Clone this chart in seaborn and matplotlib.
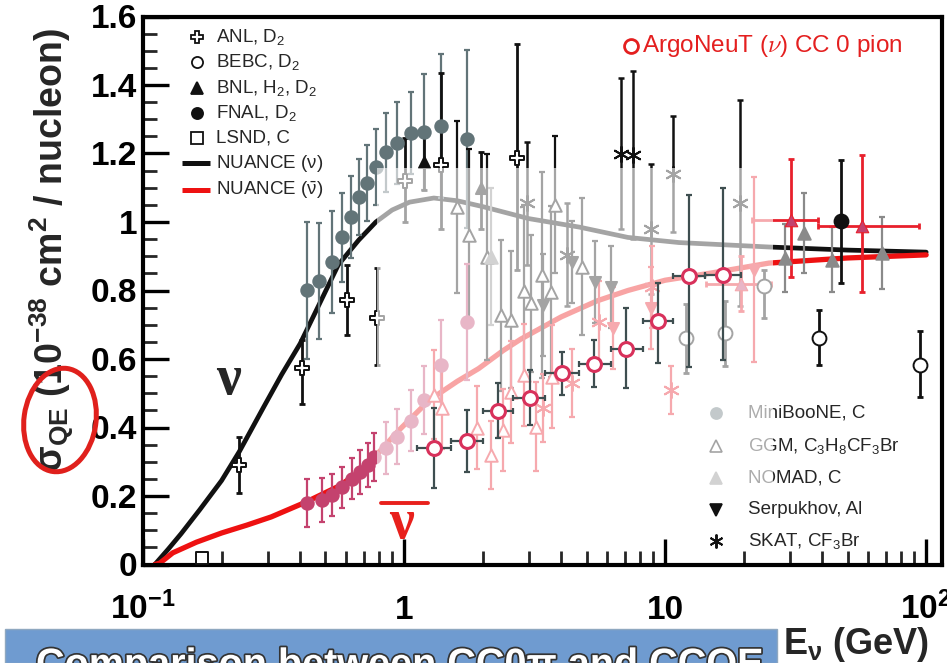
import numpy as np
import matplotlib
matplotlib.use("Agg")
import matplotlib.pyplot as plt
import seaborn as sns
from matplotlib.patches import Rectangle, Ellipse
import matplotlib.patheffects as pe
from matplotlib.ticker import FixedLocator, FixedFormatter, LogLocator, MultipleLocator, NullFormatter

sns.set_theme(style="ticks")
plt.rcParams['font.family'] = ['Liberation Sans', 'DejaVu Sans']
plt.rcParams['mathtext.fontset'] = 'custom'
plt.rcParams['mathtext.rm'] = 'Liberation Sans'
plt.rcParams['mathtext.it'] = 'Liberation Sans:italic'
plt.rcParams['mathtext.bf'] = 'Liberation Sans:bold'
plt.rcParams['mathtext.default'] = 'regular'

# ---------------- NUANCE predictions ----------------
nuance_nu_e = [0.111, 0.125, 0.14, 0.165, 0.20, 0.234, 0.29, 0.34, 0.40, 0.47, 0.56, 0.67,
               0.78, 0.9, 1.05, 1.3, 1.6, 2.0, 3.0, 4.7, 7.2, 11.3, 25.0, 50.0, 100.0]
nuance_nu_xs = [0.0, 0.045, 0.09, 0.16, 0.245, 0.33, 0.46, 0.555, 0.645, 0.755, 0.875, 0.947,
                1.0, 1.035, 1.058, 1.07, 1.062, 1.045, 1.01, 0.985, 0.955, 0.94, 0.927, 0.918, 0.912]
nuance_nub_e = [0.111, 0.116, 0.13, 0.16, 0.20, 0.25, 0.31, 0.42, 0.56, 0.66, 0.78, 0.95,
                1.25, 1.6, 1.93, 2.4, 2.8, 4.0, 5.5, 7.2, 10.0, 15.0, 25.0, 50.0, 100.0]
nuance_nub_xs = [0.0, 0.004, 0.034, 0.065, 0.092, 0.115, 0.139, 0.182, 0.228, 0.265, 0.318, 0.39,
                 0.48, 0.535, 0.572, 0.625, 0.658, 0.723, 0.77, 0.80, 0.83, 0.851, 0.88, 0.895, 0.904]

# ---------------- neutrino data ----------------
anl_e = [0.234, 0.405, 0.606, 0.79, 1.01, 1.38, 2.7]
anl_xs = [0.29, 0.574, 0.772, 0.72, 1.12, 1.165, 1.187]
anl_lo = [0.209, 0.47, 0.67, 0.583, 1.0, 0.98, 0.86]
anl_hi = [0.372, 0.655, 0.875, 0.866, 1.245, 1.435, 1.52]

bebc_e = [12.0, 17.0, 23.9, 38.7, 94.8]
bebc_xs = [0.66, 0.675, 0.813, 0.661, 0.582]
bebc_lo = [0.56, 0.58, 0.72, 0.582, 0.489]
bebc_hi = [0.76, 0.77, 0.86, 0.743, 0.682]

bnl_e = [1.19, 1.98]
bnl_xs = [1.175, 1.10]
bnl_lo = [1.093, 0.98]
bnl_hi = [1.248, 1.204]

fnal_e = [47.3]
fnal_xs = [1.003]
fnal_lo = [0.822]
fnal_hi = [1.18]

lsnd_e = [0.168]
lsnd_xs = [0.019]

mb_e = [0.426, 0.473, 0.531, 0.58, 0.627, 0.672, 0.72, 0.78, 0.85, 0.94, 1.06, 1.19, 1.38, 1.75]
mb_xs = [0.801, 0.828, 0.883, 0.956, 1.015, 1.073, 1.114, 1.161, 1.204, 1.23, 1.26, 1.263, 1.28, 1.243]
mb_err = [0.2, 0.17, 0.15, 0.13, 0.12, 0.11, 0.11, 0.11, 0.115, 0.12, 0.12, 0.17, 0.21, 0.26]

ggm_e = [1.59, 1.77, 2.08, 2.36, 2.56, 2.87, 3.07, 3.37, 3.65, 3.8, 4.8]
ggm_xs = [1.044, 0.962, 0.898, 0.728, 0.714, 0.80, 0.763, 0.845, 0.796, 1.05, 0.869]
ggm_err = [0.25, 0.25, 0.3, 0.22, 0.2, 0.25, 0.2, 0.3, 0.25, 0.2, 0.2]

nomad_e = [2.16, 28.7, 34.0, 43.4, 67.5]
nomad_xs = [0.898, 0.895, 0.968, 0.89, 0.91]
nomad_err = [0.2, 0.10, 0.117, 0.095, 0.105]

serp_e = [3.4, 4.4, 5.4, 6.2]
serp_xs = [0.758, 0.884, 0.825, 0.81]
serp_err = [0.15, 0.12, 0.12, 0.12]

skat_e = [2.95, 4.2, 6.8, 7.56, 8.8, 10.7, 19.3]
skat_xs = [1.055, 0.905, 1.2, 1.196, 0.98, 1.14, 1.055]
skat_err = [0.18, 0.15, 0.22, 0.245, 0.19, 0.17, 0.3]

# ---------------- antineutrino data ----------------
mbb_e = [0.426, 0.483, 0.531, 0.58, 0.632, 0.68, 0.73, 0.77, 0.85, 0.94, 1.06, 1.19, 1.38, 1.75]
mbb_xs = [0.18, 0.188, 0.203, 0.226, 0.25, 0.27, 0.29, 0.314, 0.34, 0.373, 0.42, 0.48, 0.583, 0.708]
mbb_err = [0.07, 0.065, 0.06, 0.06, 0.06, 0.065, 0.065, 0.07, 0.075, 0.08, 0.09, 0.1, 0.13, 0.17]

ggmb_e = [1.3, 1.4, 1.9, 2.16, 2.4, 2.56, 2.87, 3.2, 3.7]
ggmb_xs = [0.495, 0.457, 0.40, 0.32, 0.393, 0.504, 0.553, 0.402, 0.548]
ggmb_err = [0.13, 0.12, 0.12, 0.1, 0.12, 0.15, 0.15, 0.13, 0.15]

nomadb_e = [19.5, 30.3, 57.0]
nomadb_xs = [0.82, 1.005, 0.988]
nomadb_lo = [0.74, 0.84, 0.796]
nomadb_hi = [0.90, 1.184, 1.196]
nomadb_elo = [14.4, 21.6, 38.5]
nomadb_ehi = [25.4, 38.5, 94.0]

serpb_e = [6.3, 8.8, 22.0]
serpb_xs = [0.69, 0.749, 0.86]
serpb_err = [0.12, 0.12, 0.27]

skatb_e = [3.4, 4.4, 5.6, 8.9, 10.5]
skatb_xs = [0.457, 0.53, 0.708, 0.81, 0.51]
skatb_err = [0.1, 0.1, 0.12, 0.12, 0.07]

# ---------------- ArgoNeuT CC 0 pion ----------------
argo_e = [1.30, 1.75, 2.30, 3.05, 4.04, 5.33, 7.1, 9.4, 12.3, 16.6]
argo_xs = [0.34, 0.36, 0.448, 0.486, 0.559, 0.585, 0.629, 0.711, 0.842, 0.845]
argo_lo = [0.223, 0.27, 0.37, 0.407, 0.495, 0.518, 0.515, 0.588, 0.577, 0.597]
argo_hi = [0.457, 0.45, 0.53, 0.568, 0.62, 0.655, 0.749, 0.822, 1.08, 1.10]
argo_elo = [1.12, 1.51, 2.01, 2.62, 3.47, 4.66, 6.2, 8.2, 10.7, 14.2]
argo_ehi = [1.51, 2.01, 2.62, 3.47, 4.66, 6.2, 8.2, 10.7, 14.2, 19.5]

xticks = [0.1, 1, 10, 100]
xticklabels = ['10$^{-1}$', '1', '10', '10$^{2}$']

W, H = 947, 663
fig = plt.figure(figsize=(W / 100, H / 100), dpi=100)
AX_L, AX_R, AX_T, AX_B = 143, 942, 16.5, 564.5
ax = fig.add_axes([AX_L / W, 1 - AX_B / H, (AX_R - AX_L) / W, (AX_B - AX_T) / H])


def axx(px):
    return (px - AX_L) / (AX_R - AX_L)


def axy(py):
    return (AX_B - py) / (AX_B - AX_T)


BLACK = '#111111'
SLATE = '#627478'
GRAY = '#8a8a8a'
RED = '#e8202c'
DPINK = '#c4426e'


def series(e, xs, lo, hi, color, marker, face, size, lw=1.8, xlo=None, xhi=None,
           ecolor=None, z=3, mew=1.4, capsize=2.5):
    e = np.asarray(e, float)
    xs = np.asarray(xs, float)
    yerr = [xs - np.asarray(lo, float), np.asarray(hi, float) - xs]
    xerr = None
    if xlo is not None:
        xerr = [e - np.asarray(xlo, float), np.asarray(xhi, float) - e]
    ax.errorbar(e, xs, yerr=yerr, xerr=xerr, fmt='none', ecolor=ecolor or color,
                elinewidth=lw, capsize=capsize, capthick=lw, zorder=z)
    if marker == 'ast':
        sns.scatterplot(x=e, y=xs, marker=(6, 2, 0), s=size ** 2, color=color,
                        linewidth=mew, ax=ax, zorder=z + 0.1, legend=False)
    else:
        sns.scatterplot(x=e, y=xs, marker=marker, s=size ** 2, color=face,
                        edgecolor=color, linewidth=mew, ax=ax, zorder=z + 0.1, legend=False)


def sym(xs, err):
    xs = np.asarray(xs, float)
    err = np.asarray(err, float)
    return xs - err, xs + err


# predictions
sns.lineplot(x=nuance_nu_e, y=nuance_nu_xs, color=BLACK, linewidth=3.4, ax=ax, zorder=2)
sns.lineplot(x=nuance_nub_e, y=nuance_nub_xs, color='#ee1111', linewidth=3.8, ax=ax, zorder=2)

# nuclear-target neutrino data
series(mb_e, mb_xs, *sym(mb_xs, mb_err), SLATE, 'o', SLATE, 9, lw=1.6)
series(ggm_e, ggm_xs, *sym(ggm_xs, ggm_err), BLACK, '^', 'white', 9, lw=1.6)
series(nomad_e, nomad_xs, *sym(nomad_xs, nomad_err), GRAY, '^', GRAY, 9, lw=1.6)
series(serp_e, serp_xs, *sym(serp_xs, serp_err), BLACK, 'v', BLACK, 8, lw=1.6)
series(skat_e, skat_xs, *sym(skat_xs, skat_err), BLACK, 'ast', BLACK, 11, lw=1.8)

# antineutrino data
series(mbb_e, mbb_xs, *sym(mbb_xs, mbb_err), DPINK, 'o', DPINK, 9, lw=1.6)
series(ggmb_e, ggmb_xs, *sym(ggmb_xs, ggmb_err), RED, '^', 'white', 9, lw=1.6)
series(serpb_e, serpb_xs, *sym(serpb_xs, serpb_err), RED, 'v', RED, 8, lw=1.6)
series(skatb_e, skatb_xs, *sym(skatb_xs, skatb_err), RED, 'ast', RED, 11, lw=1.6)
series(nomadb_e, nomadb_xs, nomadb_lo, nomadb_hi, RED, '^', DPINK, 9, lw=2.0,
       xlo=nomadb_elo, xhi=nomadb_ehi, mew=0.8)

# deuterium / hydrogen neutrino data
series(anl_e, anl_xs, anl_lo, anl_hi, BLACK, 'P', 'white', 10, lw=2.0)
series(bebc_e, bebc_xs, bebc_lo, bebc_hi, BLACK, 'o', 'white', 10, lw=2.0)
series(bnl_e, bnl_xs, bnl_lo, bnl_hi, BLACK, '^', BLACK, 8, lw=2.0)
series(fnal_e, fnal_xs, fnal_lo, fnal_hi, BLACK, 'o', BLACK, 10, lw=2.0)
sns.scatterplot(x=lsnd_e, y=lsnd_xs, marker='s', s=81, color='white', edgecolor=BLACK,
                linewidth=1.4, ax=ax, zorder=3.1, legend=False, clip_on=False)

# legend, upper left
leg1 = [('P', 'white', 37, 'ANL, D$_2$'),
        ('o', 'white', 62, 'BEBC, D$_2$'),
        ('^', BLACK, 88, 'BNL, H$_2$, D$_2$'),
        ('o', BLACK, 113, 'FNAL, D$_2$'),
        ('s', 'white', 138, 'LSND, C')]
for mk, fc, py, lab in leg1:
    ax.plot([axx(197)], [axy(py)], marker=mk, ms=8, mfc=fc, mec=BLACK, mew=1.3,
            transform=ax.transAxes, zorder=3, clip_on=False)
    ax.text(axx(216), axy(py), lab, fontsize=13.5, va='center', ha='left',
            transform=ax.transAxes, zorder=3)
for col, py, lab in [(BLACK, 163, r'NUANCE ($\nu$)'), ('#ee1111', 190, r'NUANCE ($\bar{\nu}$)')]:
    ax.plot([axx(182), axx(210)], [axy(py), axy(py)], color=col, lw=3.6,
            transform=ax.transAxes, zorder=3, solid_capstyle='butt')
    ax.text(axx(216), axy(py), lab, fontsize=13.5, va='center', ha='left',
            transform=ax.transAxes, zorder=3)

# legend, lower right
leg2 = [('o', SLATE, SLATE, 413, 'MiniBooNE, C'),
        ('^', 'white', BLACK, 446, 'GGM, C$_3$H$_8$CF$_3$Br'),
        ('^', GRAY, GRAY, 478, 'NOMAD, C'),
        ('v', BLACK, BLACK, 510, 'Serpukhov, Al'),
        ('ast', BLACK, BLACK, 541, 'SKAT, CF$_3$Br')]
for mk, fc, ec, py, lab in leg2:
    if mk == 'ast':
        ax.plot([axx(716)], [axy(py)], marker=(6, 2, 0), ms=10, mec=ec, mew=1.4,
                transform=ax.transAxes, zorder=3)
    else:
        ax.plot([axx(716)], [axy(py)], marker=mk, ms=8, mfc=fc, mec=ec, mew=1.2,
                transform=ax.transAxes, zorder=3)
    ax.text(axx(748), axy(py), lab, fontsize=13.5, va='center', ha='left',
            transform=ax.transAxes, zorder=3)

# translucent highlight panel over the middle energy range
ax.add_patch(Rectangle((axx(377), axy(495)), axx(773) - axx(377), axy(168) - axy(495),
                       transform=ax.transAxes, facecolor='white', alpha=0.62,
                       edgecolor='none', zorder=4))

# ArgoNeuT measurement on top
series(argo_e, argo_xs, argo_lo, argo_hi, '#d8315b', 'o', 'white', 10, lw=1.6,
       xlo=argo_elo, xhi=argo_ehi, ecolor='#3e4e50', z=6, mew=2.2, capsize=2)

ax.plot([axx(631)], [axy(46)], marker='o', ms=10, mfc='none', mec='#e41f1f', mew=2,
        transform=ax.transAxes, zorder=7)
ax.text(axx(642), axy(46), r'ArgoNeuT ($\mathit{\nu}$) CC 0 pion', color='#e41f1f', fontsize=17.5,
        va='center', ha='left', transform=ax.transAxes, zorder=7, math_fontfamily='cm')

# nu / nubar annotations
ax.text(axx(228), axy(380), 'ν', fontsize=40, fontweight='bold', family='Liberation Serif',
        ha='center', va='center', transform=ax.transAxes, zorder=6)
ax.text(axx(401), axy(524), 'ν', fontsize=40, fontweight='bold', family='Liberation Serif',
        color='#e8201c', ha='center', va='center', transform=ax.transAxes, zorder=6)
ax.plot([axx(381), axx(428)], [axy(503), axy(503)], color='#e8201c', lw=2.8,
        transform=ax.transAxes, zorder=6)

# axes
ax.set_xscale('log')
ax.set_xlim(0.1, 115)
ax.set_ylim(0, 1.6)
ax.xaxis.set_major_locator(FixedLocator(xticks))
ax.xaxis.set_major_formatter(FixedFormatter(xticklabels))
ax.xaxis.set_minor_locator(LogLocator(base=10, subs=np.arange(2, 10)))
ax.xaxis.set_minor_formatter(NullFormatter())
ax.yaxis.set_major_locator(MultipleLocator(0.2))
ax.yaxis.set_minor_locator(MultipleLocator(0.05))
ax.yaxis.set_major_formatter(plt.FuncFormatter(lambda v, p: f'{v:g}'))
ax.tick_params(which='major', direction='in', length=19, width=2.4, top=False, right=False,
               labelsize=24, colors='black')
ax.tick_params(which='minor', direction='in', length=10, width=2.0, top=False, right=False)
ax.tick_params(axis='y', pad=4)
ax.tick_params(axis='x', pad=39)
for lbl in ax.get_xticklabels() + ax.get_yticklabels():
    lbl.set_fontweight('bold')
for lbl in ax.get_xticklabels():
    lbl.set_verticalalignment('baseline')
for sp in ax.spines.values():
    sp.set_linewidth(3.0)
    sp.set_color('black')
ax.set_xlabel('')
ax.set_ylabel('')

# axis titles
fig.text(52 / W, 1 - 472 / H, r'$\sigma_{QE}$ (10$^{-38}$ cm$^2$ / nucleon)', rotation=90,
         fontsize=27, fontweight='bold', ha='center', va='bottom')
fig.text(783 / W, 1 - 654 / H, r'E$_\nu$ (GeV)', fontsize=26, fontweight='bold',
         ha='left', va='baseline')

# red hand-drawn ring around the cross-section symbol
fig.add_artist(Ellipse((60 / 100, (H - 420) / 100), 0.72, 1.04, angle=-8,
                       transform=fig.dpi_scale_trans, facecolor='none',
                       edgecolor='#e0201c', lw=3.6, zorder=10))

# slide banner
fig.add_artist(Rectangle((5 / W, 0), 772 / W, 34 / H, transform=fig.transFigure,
                         facecolor='#6f9bd0', edgecolor='#8fa8c0', lw=1, zorder=9))
fig.text(36 / W, -13 / H, 'Comparison between CC0π and CCQE', fontsize=28.5, fontweight='bold',
         color='white', ha='left', va='baseline', zorder=11,
         path_effects=[pe.withStroke(linewidth=2.5, foreground='#333333')])

fig.savefig('out.png', dpi=100)
